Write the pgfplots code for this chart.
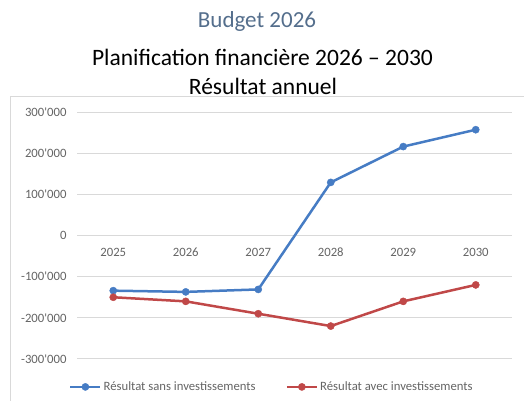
\documentclass[border=0pt]{standalone}
\usepackage{pgfplots}
\pgfplotsset{compat=1.18}
\usepackage{fontspec}
\setmainfont{Carlito}
\definecolor{sblue}{RGB}{70,124,196}
\definecolor{sred}{RGB}{192,72,72}
\definecolor{gridc}{RGB}{217,217,217}
\definecolor{tickc}{RGB}{100,100,100}
\definecolor{ttl}{RGB}{84,110,140}
\begin{document}
\begin{tikzpicture}[x=1pt,y=1pt]
\path[use as bounding box] (0,0) rectangle (524,401);
\draw[gridc, line width=1pt] (10,-5) -- (10,304) -- (530,304);
\node[anchor=base, text=ttl, inner sep=0pt, font=\fontsize{23}{27}\selectfont] at (257,373.5) {Budget 2026};
\node[anchor=base, inner sep=0pt, font=\fontsize{23.5}{28}\selectfont] at (262.5,335.5) {Planification financière 2026 – 2030};
\node[anchor=base, inner sep=0pt, font=\fontsize{23.5}{28}\selectfont] at (263,306.5) {Résultat annuel};
\begin{axis}[
  at={(77pt,42pt)}, anchor=south west,
  scale only axis, width=435pt, height=247pt,
  xmin=-0.5, xmax=5.5, ymin=-300000, ymax=300000,
  axis x line=middle, axis y line=left,
  x axis line style={draw=gridc, line width=1pt, -},
  y axis line style={draw=none},
  major tick length=0pt,
  scaled y ticks=false,
  ymajorgrids, grid style={gridc, line width=1pt},
  xtick={0,1,2,3,4,5},
  xticklabels={2025,2026,2027,2028,2029,2030},
  ytick={-300000,-200000,-100000,0,100000,200000,300000},
  yticklabels={-300\textquotesingle000,-200\textquotesingle000,-100\textquotesingle000,0,100\textquotesingle000,200\textquotesingle000,300\textquotesingle000},
  tick label style={font=\fontsize{12.7}{15}\selectfont, text=tickc},
  xticklabel style={yshift=-9pt},
  yticklabel style={xshift=-7pt},
  legend style={at={(0.448,-0.113)}, anchor=center, draw=none, fill=none,
    legend columns=2, font=\fontsize{12.7}{15}\selectfont, text=tickc,
    /tikz/every even column/.append style={column sep=28pt}},
  legend image code/.code={\draw[#1, mark repeat=2, mark phase=2] plot coordinates {(0pt,0pt) (15pt,0pt) (30pt,0pt)};},
  every axis plot/.append style={line width=2.5pt, mark=*, mark size=3.6pt},
  clip=false,
]
\addplot[color=sblue, mark options={solid, fill=sblue, draw=sblue, line width=0.4pt}] coordinates {
  (0,-134000) (1,-137000) (2,-131000) (3,129000) (4,216000) (5,257000)};
\addlegendentry{Résultat sans investissements}
\addplot[color=sred, mark options={solid, fill=sred, draw=sred, line width=0.4pt}] coordinates {
  (0,-150000) (1,-160000) (2,-190000) (3,-220000) (4,-160000) (5,-120000)};
\addlegendentry{Résultat avec investissements}
\end{axis}
\end{tikzpicture}
\end{document}
